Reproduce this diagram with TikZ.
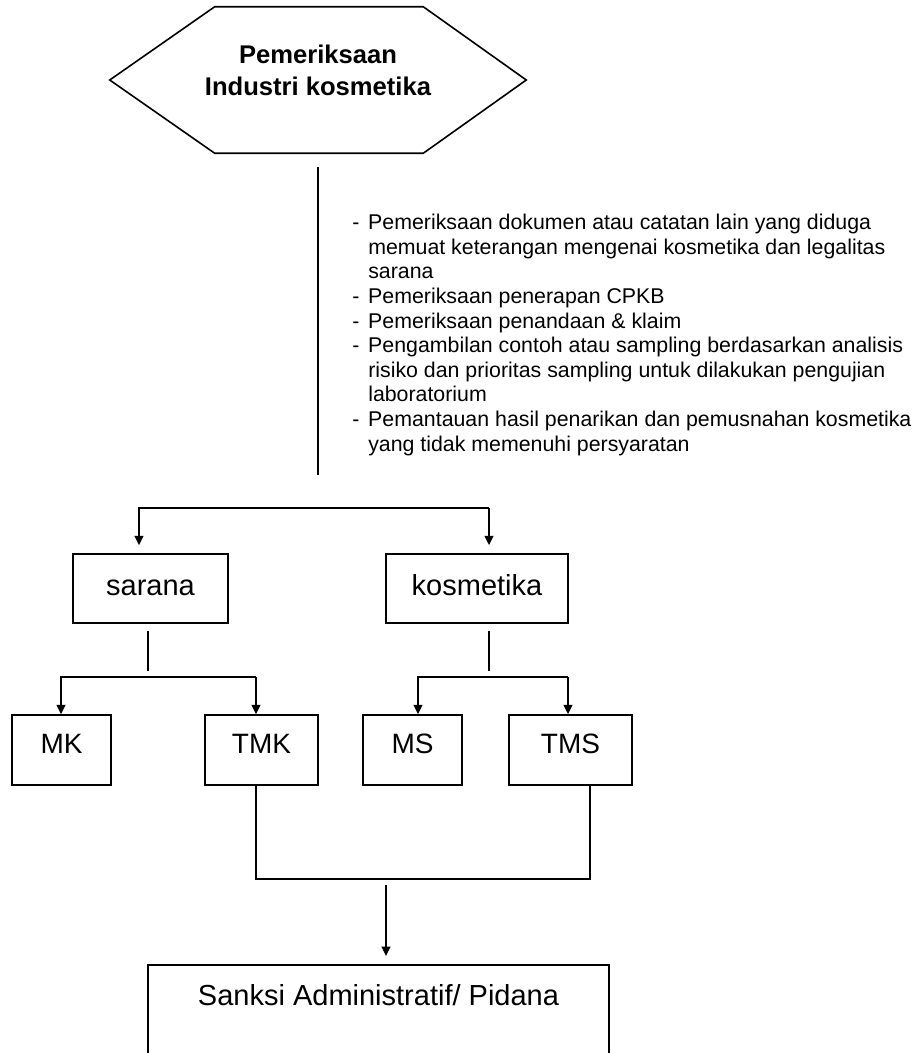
\documentclass[tikz,border=0pt]{standalone}
\usepackage{fontspec}
\setmainfont{Liberation Sans}
\usetikzlibrary{arrows.meta}
\begin{document}
\begin{tikzpicture}[x=0.75pt,y=-0.75pt,
  boxa/.style={draw, line width=1.3pt, inner sep=0pt, minimum height=51.75pt,
    font=\fontsize{21.75}{26}\selectfont, text height=15.75pt, text depth=6pt},
  boxb/.style={draw, line width=1.3pt, inner sep=0pt, minimum height=52.5pt,
    font=\fontsize{21}{25}\selectfont, text height=15.75pt, text depth=11.25pt},
  hexframe/.style={inner sep=0pt, minimum width=312pt, minimum height=109.5pt},
  plainline/.style={line width=1.2pt},
  arrowline/.style={line width=1.4pt, -{Triangle[length=7pt,width=6.5pt]}},
]
\useasboundingbox (0,0) rectangle (917,1053);
\clip (0,0) rectangle (917,1053);
\fill[white] (0,0) rectangle (917,1053);

% hexagon
\node[hexframe] (hex) at (318,80) {};
\draw[plainline] (hex.west) -- ([xshift=78.75pt]hex.north west) -- ([xshift=-77.25pt]hex.north east)
  -- (hex.east) -- ([xshift=-77.25pt]hex.south east) -- ([xshift=78.75pt]hex.south west) -- cycle;
\node[anchor=north, align=center, inner sep=0pt, font=\bfseries\fontsize{19.2}{24}\selectfont] (hextitle) at (318,45)
  {Pemeriksaan\\Industri kosmetika};

% task list
\node[anchor=north west, align=left, inner sep=0pt, font=\fontsize{16}{18.45}\selectfont] (tasks) at (352,214)
  {\makebox[12pt][l]{-}Pemeriksaan dokumen atau catatan lain yang diduga\\
   \hspace*{12pt}memuat keterangan mengenai kosmetika dan legalitas\\
   \hspace*{12pt}sarana\\
   \makebox[12pt][l]{-}Pemeriksaan penerapan CPKB\\
   \makebox[12pt][l]{-}Pemeriksaan penandaan \& klaim\\
   \makebox[12pt][l]{-}Pengambilan contoh atau sampling berdasarkan analisis\\
   \hspace*{12pt}risiko dan prioritas sampling untuk dilakukan pengujian\\
   \hspace*{12pt}laboratorium\\
   \makebox[12pt][l]{-}Pemantauan hasil penarikan dan pemusnahan kosmetika\\
   \hspace*{12pt}yang tidak memenuhi persyaratan};

% boxes
\node[boxa, minimum width=116.25pt] (sarana) at (150.5,588.5) {sarana};
\node[boxa, minimum width=136.5pt] (kosmetika) at (477,588.5) {kosmetika};
\node[boxb, minimum width=74.25pt] (MK) at (61.5,750) {MK};
\node[boxb, minimum width=84.75pt] (TMK) at (261.5,750) {TMK};
\node[boxb, minimum width=74.25pt] (MS) at (412.5,750) {MS};
\node[boxb, minimum width=92.25pt] (TMS) at (570.5,750) {TMS};
\node[draw, line width=1.3pt, anchor=north, inner sep=0pt, minimum width=345.75pt, minimum height=150pt] (sanksibox) at (378.5,964) {};
\node[anchor=base, inner sep=0pt, font=\fontsize{21.75}{26}\selectfont] (sanksi) at (378.5,1005) {Sanksi Administratif/ Pidana};

% trunk
\coordinate (trunkEnd) at (318,475);
\draw[plainline] ([yshift=-10.5pt]hex.south) -- (trunkEnd);

% bracket 1
\coordinate (b1L) at (139,508);
\coordinate (b1R) at (489,508);
\draw[arrowline, shorten >=6pt] (b1R) -- (b1L) -- (b1L |- sarana.north);
\draw[arrowline, shorten >=6pt] (b1R) -- (b1R |- kosmetika.north);

% stems
\draw[plainline] ([xshift=-1.9pt,yshift=-5.25pt]sarana.south) -- ++(0,40);
\draw[plainline] ([xshift=9pt,yshift=-5.25pt]kosmetika.south) -- ++(0,40);

% bracket 2
\coordinate (b2L) at (61,677);
\coordinate (b2R) at (256,677);
\draw[arrowline] (b2R) -- (b2L) -- (b2L |- MK.north);
\draw[arrowline] (b2R) -- (b2R |- TMK.north);

% bracket 3
\coordinate (b3L) at (418,677);
\coordinate (b3R) at (568,677);
\draw[arrowline] (b3R) -- (b3L) -- (b3L |- MS.north);
\draw[arrowline] (b3R) -- (b3R |- TMS.north);

% join
\coordinate (joinL) at (256,879);
\coordinate (joinR) at (590,879);
\draw[plainline] (TMK.south -| joinL) -- (joinL) -- (joinR) -- (TMS.south -| joinR);
\coordinate (dropTop) at (386,885);
\draw[arrowline, shorten >=6pt] (dropTop) -- (dropTop |- sanksibox.north);
\end{tikzpicture}
\end{document}
